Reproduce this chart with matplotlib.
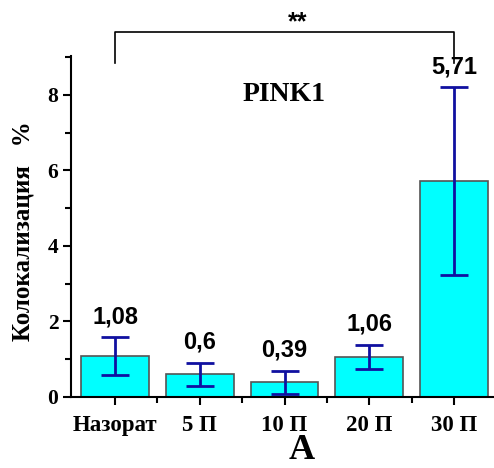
import matplotlib
matplotlib.use("Agg")
import matplotlib.pyplot as plt
from matplotlib.ticker import MultipleLocator, FixedLocator

categories = ["Назорат", "5 П", "10 П", "20 П", "30 П"]
values = [1.08, 0.6, 0.39, 1.06, 5.71]
errors = [0.5, 0.3, 0.3, 0.31, 2.49]
value_labels = ["1,08", "0,6", "0,39", "1,06", "5,71"]

serif = ["Liberation Serif", "DejaVu Serif"]
sans = ["Liberation Sans", "DejaVu Sans"]

fig = plt.figure(figsize=(4.94, 4.68), dpi=100)
ax_w = 1 - 71/494 + 0.01
ax = fig.add_axes([71/494, 71/468, ax_w, 341/468])

x = list(range(len(categories)))
ax.bar(x, values, width=0.8, color="#00FFFF", edgecolor="#555555", linewidth=1.2, zorder=2)
ax.errorbar(x, values, yerr=errors, fmt="none", ecolor="#1010A0", elinewidth=2,
            capsize=10, capthick=2, zorder=3)

for xi, v, e, lab in zip(x, values, errors, value_labels):
    ax.text(xi, v + e + 0.55, lab, ha="center", va="center", fontsize=17,
            fontweight="bold", family=sans)

ax.set_xlim(-0.52, 4.53)
ax.set_ylim(0, 9.03)
ax.set_xticks(x)
ax.set_xticklabels(categories, fontsize=16.5, fontweight="bold", family=serif)
ax.xaxis.set_minor_locator(FixedLocator([0.5, 1.5, 2.5, 3.5]))
ax.yaxis.set_major_locator(MultipleLocator(2))
ax.yaxis.set_minor_locator(MultipleLocator(1))
for lab in ax.get_yticklabels():
    lab.set_fontsize(15.5)
    lab.set_fontweight("bold")
    lab.set_family(serif)
ax.tick_params(axis="both", which="major", direction="out", length=6, width=1.5)
ax.tick_params(axis="both", which="minor", direction="out", length=4, width=1.5)
ax.tick_params(axis="x", pad=7)
ax.tick_params(axis="y", pad=3)

for s in ["top", "right"]:
    ax.spines[s].set_visible(False)
for s in ["left", "bottom"]:
    ax.spines[s].set_linewidth(1.5)

ax.set_ylabel("Колокализация   %", fontsize=18, fontweight="bold", family=serif)
ax.yaxis.set_label_coords((35 - 71) / (ax_w * 494), 0.487)

ax.text(2, 8.0, "PINK1", ha="center", va="center", fontsize=20, fontweight="bold", family=serif)

# significance bracket
ax.plot([0, 0, 4, 4], [8.85, 9.67, 9.67, 8.85], color="black", lw=1.2, clip_on=False)
ax.text(2.15, 9.93, "**", ha="center", va="center", fontsize=18, fontweight="bold", family=sans)

fig.text(302/494, 0.6/468, "A", ha="center", va="bottom", fontsize=26,
         fontweight="bold", family=serif)

fig.savefig("out.png", dpi=100)
